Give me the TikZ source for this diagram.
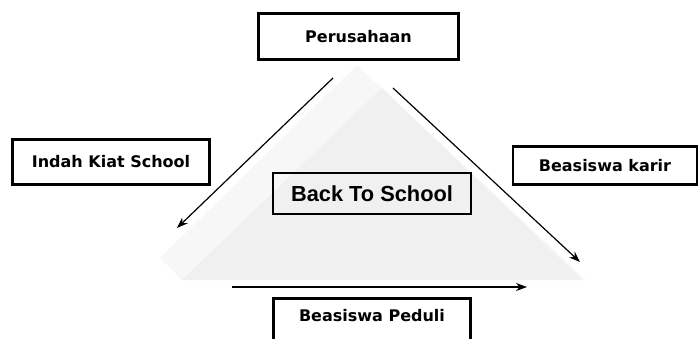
\documentclass[tikz,border=0pt]{standalone}
\usepackage{fontspec}
\setmainfont{DejaVu Sans}
\newfontfamily\arialfont{Liberation Sans}
\usetikzlibrary{arrows.meta}

\begin{document}
\begin{tikzpicture}[x = 1pt, y = -1pt,
		box/.style = {draw, line width = 2.6pt, font = \fontsize{16}{19}\selectfont\bfseries, inner sep = 0pt},
		arr/.style = {line width = 1.2pt, -{Stealth[length = 11pt, width = 8pt]}}]
		\useasboundingbox (0, 0) rectangle (700, 338);
		% triangle
		\fill[black!3] (357, 65) -- (160, 258) -- (182, 280) -- (586, 280) -- cycle;
		\fill[black!6] (382, 88) -- (182, 280) -- (582, 280) -- cycle;
		% boxes
		\node[box, minimum width = 200pt, minimum height = 46pt] (per) at (358.5, 36.5) {Perusahaan};
		\node[box, minimum width = 197pt, minimum height = 45pt] (ikso) at (111, 162) {Indah Kiat School};
		\node[box, minimum width = 184pt, minimum height = 38pt] (kar) at (605, 165.5) {Beasiswa karir};
		\node[draw, line width = 1.3pt, minimum width = 198pt, minimum height = 41pt, font = \fontsize{21.8}{25}\selectfont\arialfont\bfseries] (bts) at (372, 193.5) {Back To School};
		\node[box, anchor = north, minimum width = 197pt, text height = 12pt, text depth = 30pt, inner ysep = 11pt] (ped) at (372, 297) {Beasiswa Peduli};
		% arrows
		\coordinate (l1) at (333, 78);
		\coordinate (l2) at (177, 228);
		\coordinate (r1) at (393, 88);
		\coordinate (r2) at (580, 262);
		\coordinate (b1) at (232, 287);
		\coordinate (b2) at (527, 287);
		\draw[arr] (l1) -- (l2);
		\draw[arr] (r1) -- (r2);
		\draw[arr] (b1) -- (b2);
	\end{tikzpicture}
\end{document}
